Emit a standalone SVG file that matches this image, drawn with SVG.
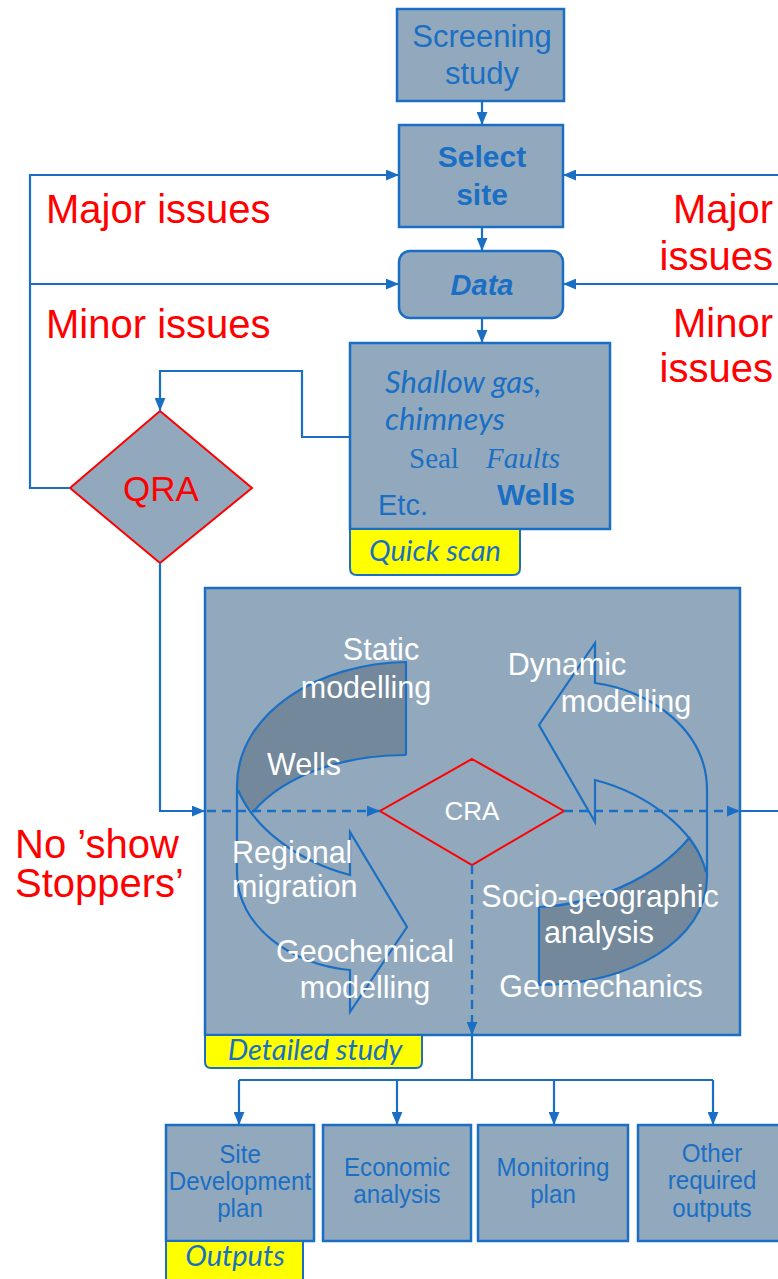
<svg xmlns="http://www.w3.org/2000/svg" width="778" height="1279" viewBox="0 0 778 1279">
<style>
.box{fill:#92a9bd;stroke:#1a6fc4;stroke-width:2.5}
.lbl{fill:#ffff00;stroke:#1a6fc4;stroke-width:2}
.ln{fill:none;stroke:#1a6fc4;stroke-width:2.2}
.dash{fill:none;stroke:#1a6fc4;stroke-width:2.4;stroke-dasharray:9,6}
.dark{fill:#73889b;stroke:none}
.bt{font-family:"Liberation Sans",Arial,sans-serif;fill:#1a6fc4}
.wt{font-family:"Liberation Sans",Arial,sans-serif;fill:#ffffff;font-size:30.5px;text-anchor:middle}
.red{font-family:"Liberation Sans",Arial,sans-serif;fill:#ff0000;font-size:40px}
.cal{font-family:Lato,"Open Sans",sans-serif;font-style:italic;fill:#1a6fc4}
.out{font-family:"Liberation Sans",Arial,sans-serif;fill:#1a6fc4;font-size:26px;text-anchor:middle}
</style>
<defs>
<marker id="ah" viewBox="0 0 12 10" refX="12" refY="5" markerWidth="13" markerHeight="11" markerUnits="userSpaceOnUse" orient="auto">
<path d="M0,0 L12,5 L0,10 Z" fill="#1a6fc4"/>
</marker>
</defs>

<g id="screening">
<rect class="box" x="397" y="9" width="167" height="92"/>
<text class="bt" x="482" y="47" font-size="31" text-anchor="middle">Screening</text>
<text class="bt" x="482" y="84" font-size="31" text-anchor="middle">study</text>
</g>

<g id="select-site">
<rect class="box" x="399" y="125" width="164" height="102"/>
<text class="bt" x="482" y="167" font-size="30" font-weight="bold" text-anchor="middle">Select</text>
<text class="bt" x="482" y="205" font-size="30" font-weight="bold" text-anchor="middle">site</text>
</g>

<g id="data">
<rect class="box" x="399" y="251" width="164" height="67" rx="11"/>
<text class="bt" x="482" y="295" font-size="29" font-weight="bold" font-style="italic" text-anchor="middle">Data</text>
</g>

<g id="quick-scan">
<rect class="box" x="350" y="343" width="260" height="186"/>
<text class="cal" x="385" y="393" font-size="31">Shallow gas,</text>
<text class="cal" x="385" y="430" font-size="31">chimneys</text>
<text x="409" y="468" font-family="'Liberation Serif',serif" font-size="29" fill="#1a6fc4">Seal</text>
<text x="486" y="468" font-family="'Liberation Serif',serif" font-style="italic" font-size="29" fill="#1a6fc4">Faults</text>
<text class="bt" x="378" y="515" font-size="29">Etc.</text>
<text class="bt" x="497" y="505" font-size="30" font-weight="bold">Wells</text>
<path class="lbl" d="M350,529 L520,529 L520,568 Q520,575 513,575 L357,575 Q350,575 350,568 Z"/>
<text class="cal" x="435" y="561" font-size="29" text-anchor="middle">Quick scan</text>
</g>

<g id="qra">
<path d="M160,411 L252,488 L160,563 L70,488 Z" fill="#92a9bd" stroke="#ff0000" stroke-width="2"/>
<text x="161" y="501" font-family="'Liberation Sans',Arial,sans-serif" font-size="35" fill="#ff0000" text-anchor="middle">QRA</text>
</g>

<g id="detailed-study">
<rect class="box" x="205" y="588" width="535" height="447"/>
<path class="dark" d="M406,662 C320,663 237,712 237,786 C240,797 246,805 253,812 C285,774 345,755 406,755 Z"/>
<path class="ln" d="M406,755 L406,662 C320,663 237,712 237,786 L237,873 C237,925 290,965 350,970 L350,1012 L407,927 L350,832 L350,875 C300,862 255,830 238,790"/>
<path class="ln" d="M406,755 C345,755 285,774 253,812"/>
<path class="dark" d="M539,907 C590,905 655,880 690,837 C699,848 705,862 707,877 C707,940 630,985 539,985 Z"/>
<path class="ln" d="M539,907 L539,985 C630,985 707,940 707,877 L707,790 C707,730 650,690 595,683 L595,643 L539,725 L595,822 L595,780 C645,793 695,828 706,872"/>
<path class="ln" d="M539,907 C590,905 655,880 690,837"/>
<text class="wt" x="381" y="660">Static</text>
<text class="wt" x="366" y="698">modelling</text>
<text class="wt" x="304" y="775">Wells</text>
<text class="wt" x="232" y="863" style="text-anchor:start">Regional</text>
<text class="wt" x="232" y="897" style="text-anchor:start">migration</text>
<text class="wt" x="365" y="962">Geochemical</text>
<text class="wt" x="365" y="998">modelling</text>
<text class="wt" x="567" y="675">Dynamic</text>
<text class="wt" x="626" y="712">modelling</text>
<text class="wt" x="600" y="907">Socio-geographic</text>
<text class="wt" x="599" y="943">analysis</text>
<text class="wt" x="601" y="997">Geomechanics</text>
<path class="lbl" d="M205,1035 L422,1035 L422,1062 Q422,1068 416,1068 L211,1068 Q205,1068 205,1062 Z"/>
<text class="cal" x="315" y="1060" font-size="29" text-anchor="middle">Detailed study</text>
</g>

<g id="cra">
<path d="M472,759 L564,811 L472,865 L380,811 Z" fill="none" stroke="#ff0000" stroke-width="2"/>
<text class="wt" x="472" y="820" style="font-size:26px">CRA</text>
</g>

<g id="site-development-plan">
<rect class="box" x="166" y="1125" width="148" height="116"/>
<g transform="translate(240,0) scale(0.93,1)">
<text class="out" x="0" y="1163">Site</text>
<text class="out" x="0" y="1190">Development</text>
<text class="out" x="0" y="1217">plan</text>
</g>
</g>
<g id="economic-analysis">
<rect class="box" x="323" y="1125" width="148" height="116"/>
<g transform="translate(397,0) scale(0.93,1)">
<text class="out" x="0" y="1176">Economic</text>
<text class="out" x="0" y="1203">analysis</text>
</g>
</g>
<g id="monitoring-plan">
<rect class="box" x="478" y="1125" width="150" height="116"/>
<g transform="translate(553,0) scale(0.93,1)">
<text class="out" x="0" y="1176">Monitoring</text>
<text class="out" x="0" y="1203">plan</text>
</g>
</g>
<g id="other-outputs">
<rect class="box" x="638" y="1125" width="150" height="116"/>
<g transform="translate(712,0) scale(0.93,1)">
<text class="out" x="0" y="1162">Other</text>
<text class="out" x="0" y="1189">required</text>
<text class="out" x="0" y="1217">outputs</text>
</g>
</g>
<g id="outputs-label">
<path class="lbl" d="M166,1241 L303,1241 L303,1290 L166,1290 Z"/>
<text class="cal" x="235" y="1266" font-size="29" text-anchor="middle">Outputs</text>
</g>

<g id="annotations">
<text class="red" x="46" y="223">Major issues</text>
<text class="red" x="46" y="338">Minor issues</text>
<text class="red" x="773" y="223" text-anchor="end">Major</text>
<text class="red" x="773" y="270" text-anchor="end">issues</text>
<text class="red" x="773" y="337" text-anchor="end">Minor</text>
<text class="red" x="773" y="382" text-anchor="end">issues</text>
<text class="red" x="15" y="858">No ’show</text>
<text class="red" x="15" y="897">Stoppers’</text>
</g>

<g id="connectors">
<path class="ln" d="M482,101 L482,125" marker-end="url(#ah)"/>
<path class="ln" d="M482,227 L482,251" marker-end="url(#ah)"/>
<path class="ln" d="M482,318 L482,343" marker-end="url(#ah)"/>
<path class="ln" d="M70,488 L30,488 L30,175 L399,175" marker-end="url(#ah)"/>
<path class="ln" d="M30,284 L399,284" marker-end="url(#ah)"/>
<path class="ln" d="M350,437 L302,437 L302,371 L160,371 L160,411" marker-end="url(#ah)"/>
<path class="ln" d="M160,563 L160,811 L205,811" marker-end="url(#ah)"/>
<path class="dash" d="M207,811 L380,811" marker-end="url(#ah)"/>
<path class="dash" d="M564,811 L740,811" marker-end="url(#ah)"/>
<path class="ln" d="M740,811 L795,811 L795,175 L563,175" marker-end="url(#ah)"/>
<path class="ln" d="M795,284 L563,284" marker-end="url(#ah)"/>
<path class="dash" d="M472,865 L472,1035" marker-end="url(#ah)"/>
<path class="ln" d="M472,1035 L472,1080 M239,1080 L713,1080"/>
<path class="ln" d="M239,1080 L239,1125" marker-end="url(#ah)"/>
<path class="ln" d="M397,1080 L397,1125" marker-end="url(#ah)"/>
<path class="ln" d="M554,1080 L554,1125" marker-end="url(#ah)"/>
<path class="ln" d="M713,1080 L713,1125" marker-end="url(#ah)"/>
</g>
</svg>
